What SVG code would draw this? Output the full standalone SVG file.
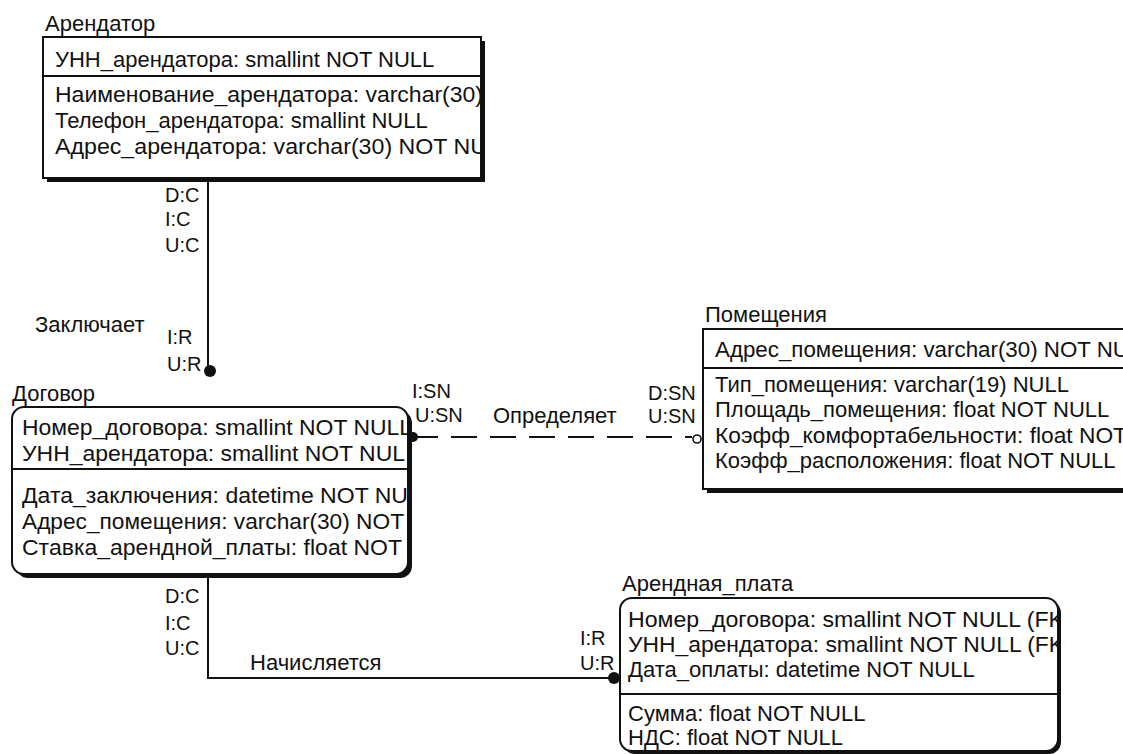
<svg xmlns="http://www.w3.org/2000/svg" width="1123" height="754" viewBox="0 0 1123 754">
<style>
text{font-family:"Liberation Sans",Arial,sans-serif;fill:#111}
.t{font-size:22px}
.r{font-size:22px}
.c{font-size:20px}
.box{fill:#fff;stroke:#111;stroke-width:2}
.sh{fill:#111}
.sep{stroke:#111;stroke-width:2}
.ln{fill:none;stroke:#111;stroke-width:2}
.dash{fill:none;stroke:#111;stroke-width:2;stroke-dasharray:26 13}
.dot{fill:#111}
.hollow{fill:#fff;stroke:#111;stroke-width:1.6}
</style>
<defs>
<clipPath id="cA"><rect x="44" y="38" width="436" height="139"/></clipPath>
<clipPath id="cD"><rect x="13" y="408" width="394" height="165"/></clipPath>
<clipPath id="cP"><rect x="704" y="330" width="419" height="158"/></clipPath>
<clipPath id="cR"><rect x="621" y="599" width="436" height="151"/></clipPath>
</defs>
<rect width="1123" height="754" fill="#fff"/>

<g id="connectors">
<path class="ln" d="M208 178 V371"/>
<circle class="dot" cx="210" cy="371" r="6"/>
<path class="dash" d="M412 437 H692"/>
<circle class="dot" cx="413" cy="437" r="5"/>
<circle class="hollow" cx="697" cy="439" r="4"/>
<path class="ln" d="M208 575 V678 H612"/>
<circle class="dot" cx="614" cy="678" r="6"/>
</g>

<g id="labels">
<text class="c" x="165" y="202">D:C</text>
<text class="c" x="165" y="226">I:C</text>
<text class="c" x="165" y="252">U:C</text>
<text class="r" x="35" y="332">Заключает</text>
<text class="c" x="167" y="344">I:R</text>
<text class="c" x="167" y="371">U:R</text>
<text class="c" x="412" y="398">I:SN</text>
<text class="c" x="415" y="422">U:SN</text>
<text class="r" x="493" y="423">Определяет</text>
<text class="c" x="648" y="400">D:SN</text>
<text class="c" x="648" y="423">U:SN</text>
<text class="c" x="165" y="603">D:C</text>
<text class="c" x="165" y="630">I:C</text>
<text class="c" x="165" y="655">U:C</text>
<text class="r" x="250" y="670">Начисляется</text>
<text class="c" x="580" y="645">I:R</text>
<text class="c" x="580" y="670">U:R</text>
</g>

<g id="entity-arendator">
<text class="t" x="45" y="31">Арендатор</text>
<rect class="sh" x="47" y="41" width="438" height="141"/>
<rect class="box" x="43" y="37" width="438" height="141"/>
<line class="sep" x1="43" y1="76" x2="481" y2="76"/>
<g clip-path="url(#cA)">
<text class="r" x="55" y="67">УНН_арендатора: smallint NOT NULL</text>
<text class="r" x="55" y="102" textLength="428" lengthAdjust="spacingAndGlyphs">Наименование_арендатора: varchar(30)</text>
<text class="r" x="55" y="128">Телефон_арендатора: smallint NULL</text>
<text class="r" x="55" y="154" textLength="432" lengthAdjust="spacingAndGlyphs">Адрес_арендатора: varchar(30) NOT NU</text>
</g>
</g>

<g id="entity-dogovor">
<text class="t" x="12" y="401">Договор</text>
<rect class="sh" x="16" y="411" width="396" height="167" rx="12"/>
<rect class="box" x="12" y="407" width="396" height="167" rx="12"/>
<line class="sep" x1="12" y1="469" x2="408" y2="469"/>
<g clip-path="url(#cD)">
<text class="r" x="22" y="435" textLength="390" lengthAdjust="spacingAndGlyphs">Номер_договора: smallint NOT NULL</text>
<text class="r" x="22" y="461" textLength="383" lengthAdjust="spacingAndGlyphs">УНН_арендатора: smallint NOT NUL</text>
<text class="r" x="22" y="503" textLength="386" lengthAdjust="spacingAndGlyphs">Дата_заключения: datetime NOT NU</text>
<text class="r" x="22" y="529" textLength="382" lengthAdjust="spacingAndGlyphs">Адрес_помещения: varchar(30) NOT</text>
<text class="r" x="22" y="555" textLength="380" lengthAdjust="spacingAndGlyphs">Ставка_арендной_платы: float NOT</text>
</g>
</g>

<g id="entity-pomeshcheniya">
<text class="t" x="705" y="322">Помещения</text>
<rect class="sh" x="707" y="333" width="430" height="160"/>
<rect class="box" x="703" y="329" width="430" height="160"/>
<line class="sep" x1="703" y1="368" x2="1133" y2="368"/>
<g clip-path="url(#cP)">
<text class="r" x="715" y="357" textLength="414" lengthAdjust="spacingAndGlyphs">Адрес_помещения: varchar(30) NOT NU</text>
<text class="r" x="715" y="392">Тип_помещения: varchar(19) NULL</text>
<text class="r" x="715" y="417">Площадь_помещения: float NOT NULL</text>
<text class="r" x="715" y="443" textLength="412" lengthAdjust="spacingAndGlyphs">Коэфф_комфортабельности: float NOT</text>
<text class="r" x="715" y="468">Коэфф_расположения: float NOT NULL</text>
</g>
</g>

<g id="entity-arendnaya-plata">
<text class="t" x="622" y="591">Арендная_плата</text>
<rect class="sh" x="623" y="601" width="438" height="153" rx="12"/>
<rect class="box" x="620" y="598" width="438" height="153" rx="12"/>
<line class="sep" x1="620" y1="694" x2="1058" y2="694"/>
<g clip-path="url(#cR)">
<text class="r" x="628" y="627" textLength="436" lengthAdjust="spacingAndGlyphs">Номер_договора: smallint NOT NULL (FK</text>
<text class="r" x="628" y="652" textLength="436" lengthAdjust="spacingAndGlyphs">УНН_арендатора: smallint NOT NULL (FK</text>
<text class="r" x="628" y="677">Дата_оплаты: datetime NOT NULL</text>
<text class="r" x="628" y="721">Сумма: float NOT NULL</text>
<text class="r" x="628" y="745">НДС: float NOT NULL</text>
</g>
</g>
</svg>
